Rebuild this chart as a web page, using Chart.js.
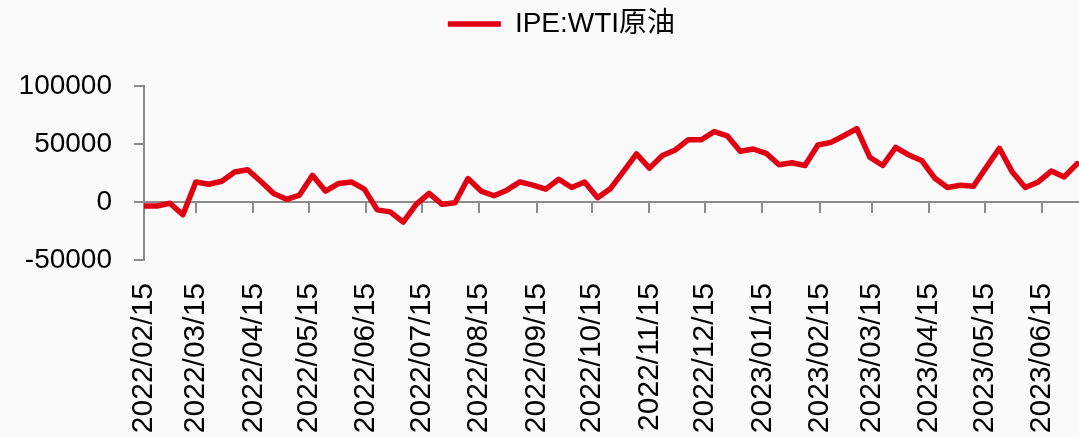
<!DOCTYPE html>
<html>
<head>
<meta charset="utf-8">
<title>IPE:WTI原油</title>
<script src="https://cdn.jsdelivr.net/npm/chart.js@4/dist/chart.umd.min.js"></script>
<style>
  html, body { margin: 0; padding: 0; background: #fafafa; }
  #wrap { width: 1079px; height: 437px; }
</style>
</head>
<body>
<div id="wrap"><canvas id="netChart" width="1079" height="437"></canvas></div>
<script>
// weekly report dates (Tuesdays)
var weekDates = [
  '2022-02-15','2022-02-22','2022-03-01','2022-03-08','2022-03-15','2022-03-22','2022-03-29',
  '2022-04-05','2022-04-12','2022-04-19','2022-04-26','2022-05-03','2022-05-10','2022-05-17',
  '2022-05-24','2022-05-31','2022-06-07','2022-06-14','2022-06-21','2022-06-28','2022-07-05',
  '2022-07-12','2022-07-19','2022-07-26','2022-08-02','2022-08-09','2022-08-16','2022-08-23',
  '2022-08-30','2022-09-06','2022-09-13','2022-09-20','2022-09-27','2022-10-04','2022-10-11',
  '2022-10-18','2022-10-25','2022-11-01','2022-11-08','2022-11-15','2022-11-22','2022-11-29',
  '2022-12-06','2022-12-13','2022-12-20','2022-12-27','2023-01-03','2023-01-10','2023-01-17',
  '2023-01-24','2023-01-31','2023-02-07','2023-02-14','2023-02-21','2023-02-28','2023-03-07',
  '2023-03-14','2023-03-21','2023-03-28','2023-04-04','2023-04-11','2023-04-18','2023-04-25',
  '2023-05-02','2023-05-09','2023-05-16','2023-05-23','2023-05-30','2023-06-06','2023-06-13',
  '2023-06-20','2023-06-27','2023-07-04'
];

// IPE:WTI crude, net position
var wtiNet = [
  -3400, -3400, -1100, -11000, 17300, 15300, 17900,
  25800, 27800, 17900, 7400, 2300, 6000, 23000,
  9400, 15900, 17300, 11100, -6800, -8500, -17300,
  -2000, 7400, -2000, -600, 20200, 9400, 5400,
  10200, 17300, 14500, 11100, 19600, 12500, 17300,
  3700, 11700, 26400, 41500, 29200, 40000, 44900,
  53700, 53700, 60700, 57100, 43700, 45700, 42000,
  32100, 33800, 31500, 49200, 51400, 57100, 63300,
  38600, 31500, 47100, 40600, 35800, 20700, 12500,
  14500, 13600, 30100, 46300, 25800, 12500, 17300,
  26700, 21600, 33000
];

var xTickLabels = [
  '2022/02/15','2022/03/15','2022/04/15','2022/05/15','2022/06/15','2022/07/15',
  '2022/08/15','2022/09/15','2022/10/15','2022/11/15','2022/12/15','2023/01/15',
  '2023/02/15','2023/03/15','2023/04/15','2023/05/15','2023/06/15'
];
var xEndDate = '2023-07-05';

var yMin = -50000, yMax = 100000, yStep = 50000;

var RED = '#e00012';
var AXIS = '#8c8c8c';
var FONT = "'Liberation Sans', 'Noto Sans CJK SC', sans-serif";

function dayOffset(str){
  var d = Date.parse(str.replace(/\//g, '-') + 'T00:00:00Z');
  var d0 = Date.parse(weekDates[0] + 'T00:00:00Z');
  return Math.round((d - d0) / 86400000);
}

var points = weekDates.map(function(d, i){
  return { x: dayOffset(d), y: wtiNet[i] };
});
var tickDays = xTickLabels.map(dayOffset);
var xMax = dayOffset(xEndDate);

function monthTicks(scale){
  scale.ticks = tickDays.map(function(v){ return { value: v }; });
}

// legend sits higher and a bit right of centre; the top padding keeps the plot low
var legendShift = {
  id: 'legendShift',
  afterLayout: function(chart){
    var lg = chart.legend;
    if (!lg) return;
    lg.left += 22;
    lg.right += 22;
    lg.top -= 38;
    lg.bottom -= 38;
  }
};

new Chart(document.getElementById('netChart'), {
  type: 'line',
  data: {
    datasets: [{
      label: 'IPE:WTI原油',
      data: points,
      borderColor: RED,
      backgroundColor: RED,
      borderWidth: 5.5,
      borderJoinStyle: 'round',
      borderCapStyle: 'round',
      pointRadius: 0,
      pointHoverRadius: 0,
      tension: 0,
      fill: false
    }]
  },
  options: {
    responsive: false,
    animation: false,
    devicePixelRatio: 1,
    layout: { padding: { top: 38, left: 0, right: 0, bottom: 0 } },
    scales: {
      x: {
        type: 'linear',
        position: 'bottom',
        min: 0,
        max: xMax,
        afterBuildTicks: monthTicks,
        afterFit: function(s){
          s.height = 177;
          s.paddingLeft = 0;
          s.paddingRight = 0;
        },
        grid: { display: false },
        border: { display: false },
        ticks: {
          autoSkip: false,
          minRotation: 90,
          maxRotation: 90,
          padding: 15,
          color: '#000',
          font: { family: FONT, size: 30 },
          callback: function(v, i){ return xTickLabels[i]; }
        }
      },
      xZero: {
        type: 'linear',
        axis: 'x',
        position: { y: 0 },
        min: 0,
        max: xMax,
        afterBuildTicks: monthTicks,
        afterFit: function(s){
          s.paddingLeft = 0;
          s.paddingRight = 0;
        },
        grid: {
          drawOnChartArea: false,
          drawTicks: true,
          tickLength: 10,
          color: AXIS,
          lineWidth: 2
        },
        border: { color: AXIS, width: 2 },
        ticks: { display: false }
      },
      y: {
        type: 'linear',
        min: yMin,
        max: yMax,
        afterFit: function(s){ s.width = 144; },
        grid: {
          drawOnChartArea: false,
          drawTicks: true,
          tickLength: 10,
          color: AXIS,
          lineWidth: 2
        },
        border: { color: AXIS, width: 2 },
        ticks: {
          stepSize: yStep,
          padding: 22,
          color: '#000',
          font: { family: FONT, size: 28 },
          callback: function(v){ return String(v); }
        }
      }
    },
    plugins: {
      legend: {
        display: true,
        position: 'top',
        labels: {
          usePointStyle: true,
          pointStyle: 'line',
          pointStyleWidth: 53,
          color: '#000',
          padding: 10,
          font: { family: FONT, size: 28 }
        }
      },
      tooltip: { enabled: false }
    }
  },
  plugins: [legendShift]
});
</script>
</body>
</html>
